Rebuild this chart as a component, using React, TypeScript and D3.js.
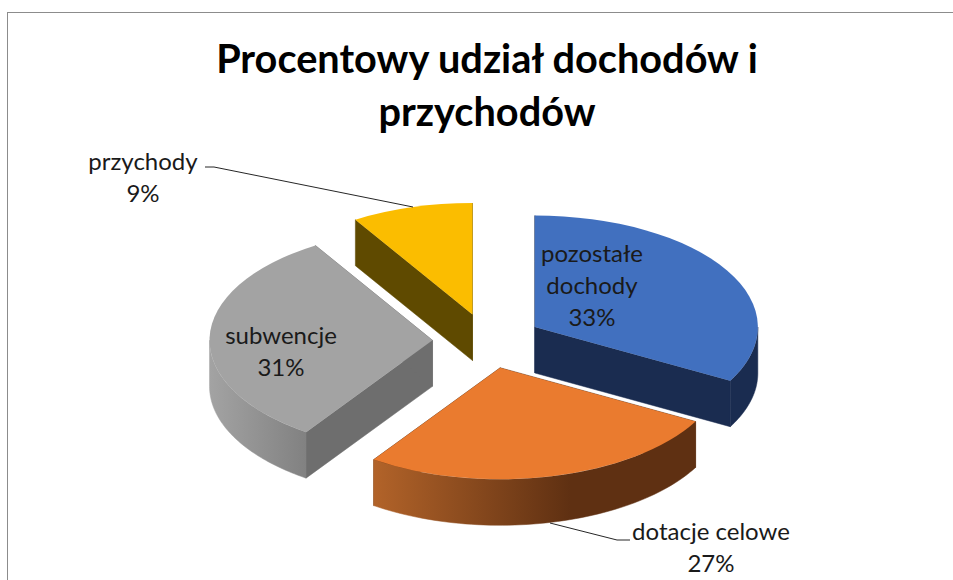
import React from "react";
import * as d3 from "d3";

const categories = ["pozostałe dochody", "dotacje celowe", "subwencje", "przychody"];
const shares = [33, 26.6, 31.6, 8.8];
const topColors = ["#4170bf", "#ea7b2f", "#a3a3a3", "#fbbd00"];
const wallColors = ["#1a2c50", "#5f3012", "#6e6e6e", "#5f4a00"];
const outerGradients = [
  ["#1a2c50", "#1a2c50"],
  ["#b5652a", "#5f3012"],
  ["#a3a3a3", "#7c7c7c"],
  ["#5f4a00", "#5f4a00"],
];
const titleLines = ["Procentowy udział dochodów i", "przychodów"];

const W = 953, H = 580;
const cx = 487.5, cy = 341, R = 223, squash = 0.5, depth = 46, explode = 55;

const pieGen = d3.pie<number>().sort(null).startAngle(0).endAngle(2 * Math.PI);
const arcs = pieGen(shares);
const arcGen = d3.arc<any>().innerRadius(0).outerRadius(R);
const lineGen = d3.line<[number, number]>();
const FONT = "Lato, 'Open Sans', sans-serif";

type Lbl = { lines: string[]; x: number; y: number };
const labels: Lbl[] = [
  { lines: ["pozostałe", "dochody", "33%"], x: 592, y: 262 },
  { lines: ["dotacje celowe", "27%"], x: 711, y: 540 },
  { lines: ["subwencje", "31%"], x: 281, y: 344 },
  { lines: ["przychody", "9%"], x: 143, y: 170 },
];
const leaders: [number, number][][] = [
  [[205, 167], [214, 167], [413, 207]],
  [[630, 540], [617, 540], [550, 523]],
];

const pt = (a: number, r = R, dz = 0): [number, number] => [r * Math.sin(a), -r * Math.cos(a) * squash + dz];

function Slice({ i }: { i: number }) {
  const a = arcs[i];
  const mid = (a.startAngle + a.endAngle) / 2;
  const ox = cx + explode * Math.sin(mid);
  const oy = cy - explode * Math.cos(mid) * squash;
  const radial = (ang: number) =>
    lineGen([[0, 0], pt(ang), pt(ang, R, depth), [0, depth]]) + "Z";
  // outer wall: only the part facing the viewer
  const from = Math.max(a.startAngle, Math.PI / 2);
  const to = Math.min(a.endAngle, (3 * Math.PI) / 2);
  const showOuter = to > from;
  const steps = d3.range(0, 61).map((k) => from + ((to - from) * k) / 60);
  const outer = showOuter
    ? lineGen([...steps.map((t) => pt(t)), ...steps.slice().reverse().map((t) => pt(t, R, depth))]) + "Z"
    : "";
  return (
    <g transform={`translate(${ox},${oy})`}>
      <path d={radial(a.startAngle)} fill={wallColors[i]} stroke={wallColors[i]} strokeWidth={0.5} />
      <path d={radial(a.endAngle)} fill={wallColors[i]} stroke={wallColors[i]} strokeWidth={0.5} />
      {showOuter && <path d={outer} fill={`url(#outer${i})`} stroke={`url(#outer${i})`} strokeWidth={0.5} />}
      <path d={arcGen(a) as string} transform={`scale(1,${squash})`} fill={topColors[i]} />
    </g>
  );
}

export default function App() {
  const drawOrder = [3, 2, 0, 1];
  return (
    <svg width={W} height={H} style={{ position: "absolute", left: 0, top: 0, background: "#fff" }} fontFamily={FONT}>
      <defs>
        {outerGradients.map((g, i) => (
          <linearGradient key={i} id={`outer${i}`} gradientUnits="userSpaceOnUse"
            x1={i === 1 ? -R * 0.6 : -R} x2={i === 1 ? 70 : -R * 0.5} y1={0} y2={0}>
            <stop offset="0" stopColor={g[0]} />
            <stop offset="1" stopColor={g[1]} />
          </linearGradient>
        ))}
      </defs>
      <rect x={7.5} y={12.5} width={960} height={600} fill="none" stroke="#8c8c8c" strokeWidth={1} />
      {titleLines.map((t, i) => (
        <text key={t} x={487} y={73 + i * 53} textAnchor="middle" fontSize={39.7} fontWeight={700} fill="#000">{t}</text>
      ))}
      {drawOrder.map((i) => <Slice key={categories[i]} i={i} />)}
      {leaders.map((l, i) => (
        <path key={i} d={lineGen(l) as string} fill="none" stroke="#262626" strokeWidth={1} />
      ))}
      {labels.map((l) => (
        <text key={l.lines[0]} textAnchor="middle" fontSize={24} fill="#1a1a1a">
          {l.lines.map((s, j) => <tspan key={s} x={l.x} y={l.y + j * 32}>{s}</tspan>)}
        </text>
      ))}
    </svg>
  );
}
